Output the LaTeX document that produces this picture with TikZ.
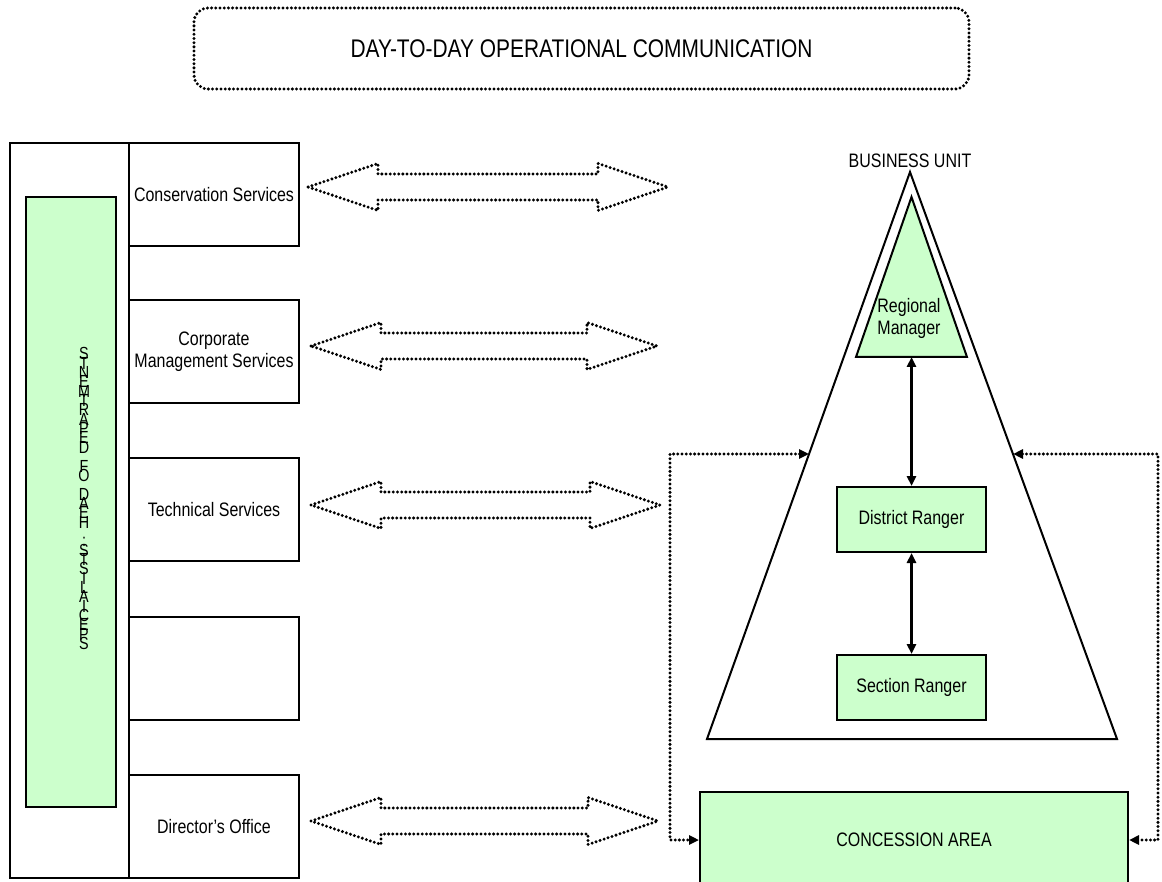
\documentclass[tikz,border=0pt]{standalone}
\usepackage{fontspec}
\setmainfont{Liberation Sans}[FakeStretch=0.82]
\usetikzlibrary{arrows.meta}
\definecolor{lgreen}{HTML}{CCFFCC}
\newcommand\dotblockarrow[3]{%
  \draw[dotline] (#1,#3) -- (#1+70,#3-23.5) -- (#1+70,#3-13) -- (#2-70,#3-13)
    -- (#2-70,#3-23.5) -- (#2,#3) -- (#2-70,#3+23.5) -- (#2-70,#3+13)
    -- (#1+70,#3+13) -- (#1+70,#3+23.5) -- cycle;}
\begin{document}
\begin{tikzpicture}[x=1pt,y=-1pt,
  txt/.style={font=\fontsize{19.5}{22}\selectfont, align=center},
  box/.style={draw, line width=2pt, minimum width=170pt, minimum height=103pt,
    inner sep=0pt, txt},
  gbox/.style={draw, fill=lgreen, line width=2pt, inner sep=0pt, txt},
  dotline/.style={line width=3.3pt, dash pattern=on 0pt off 4.2pt, line cap=round, line join=round},
  vtext/.style={font={\fontsize{17.5}{9.34}\selectfont\lineskiplimit=-100pt\lineskip=0pt},
    align=center, inner sep=0pt},
  solidarr/.style={line width=2.5pt, {Triangle[length=10pt,width=9pt]}-{Triangle[length=10pt,width=9pt]}},
  dotarr/.style={dotline, {Triangle[length=10pt,width=9pt]}-{Triangle[length=10pt,width=9pt]}}
]
\useasboundingbox (0,0) rectangle (1162,882);

% title
\node[dotline, draw, rounded corners=14pt, minimum width=775pt, minimum height=81pt,
  font=\fontsize{25.5}{28}\selectfont] (title) at (581.5,48.5) {DAY-TO-DAY OPERATIONAL COMMUNICATION};

% left column
\node[draw, line width=2pt, minimum width=119pt, minimum height=735pt, inner sep=0pt] (outer) at (69.5,510.5) {};
\node[draw, fill=lgreen, line width=2pt, minimum width=90pt, minimum height=610pt, inner sep=0pt] (senior) at (71,502) {};
\node[vtext, anchor=north] (vt) at (84,347.5) {S\\T\\N\\E\\M\\T\\R\\A\\P\\E\\D\\ \\F\\O\\ \\D\\A\\E\\H\\ \\:\\S\\T\\S\\I\\L\\A\\I\\C\\E\\P\\S};

\node[box] (cons) at (214,194.5) {Conservation Services};
\node[box] (corp) at (214,351.5) {Corporate\\Management Services};
\node[box] (tech) at (214,509.5) {Technical Services};
\node[box] (empty) at (214,668.5) {};
\node[box] (dir) at (214,826.5) {Director’s Office};

% block arrows
\dotblockarrow{308}{668}{187}
\dotblockarrow{311}{657}{346}
\dotblockarrow{311}{660}{505}
\dotblockarrow{311}{658}{821}

% business unit triangle
\coordinate (apex) at (910,172);
\coordinate (bl) at (707,739);
\coordinate (br) at (1117,739);
\draw[line width=2pt, line join=miter] (apex) -- (br) -- (bl) -- cycle;
\node[txt, anchor=base] (bu) at (910,168) {BUSINESS UNIT};

\coordinate (gapex) at (911.5,197);
\coordinate (gbl) at (856,357);
\coordinate (gbr) at (967,357);
\draw[line width=2pt, fill=lgreen] (gapex) -- (gbr) -- (gbl) -- cycle;
\node[txt] (rm) at (909,318) {Regional\\Manager};
\coordinate (rmb) at (911.5,357);

\node[gbox, minimum width=149pt, minimum height=65pt] (dr) at (911.5,519.5) {District Ranger};
\node[gbox, minimum width=149pt, minimum height=65pt] (sr) at (911.5,687.5) {Section Ranger};

\draw[solidarr] (rmb) -- (dr.north);
\draw[solidarr] (dr.south) -- (sr.north);

% concession area
\node[gbox, minimum width=428pt, minimum height=96pt] (conc) at (914,840) {CONCESSION AREA};

% dotted connectors
\coordinate (tl) at (809,454);
\coordinate (tr) at (1013,454);
\coordinate (lc) at (670,454);
\coordinate (rc) at (1158,454);
\draw[dotarr] (tl) -- (lc) |- (conc.west);
\draw[dotarr] (tr) -- (rc) |- (conc.east);
\end{tikzpicture}
\end{document}
